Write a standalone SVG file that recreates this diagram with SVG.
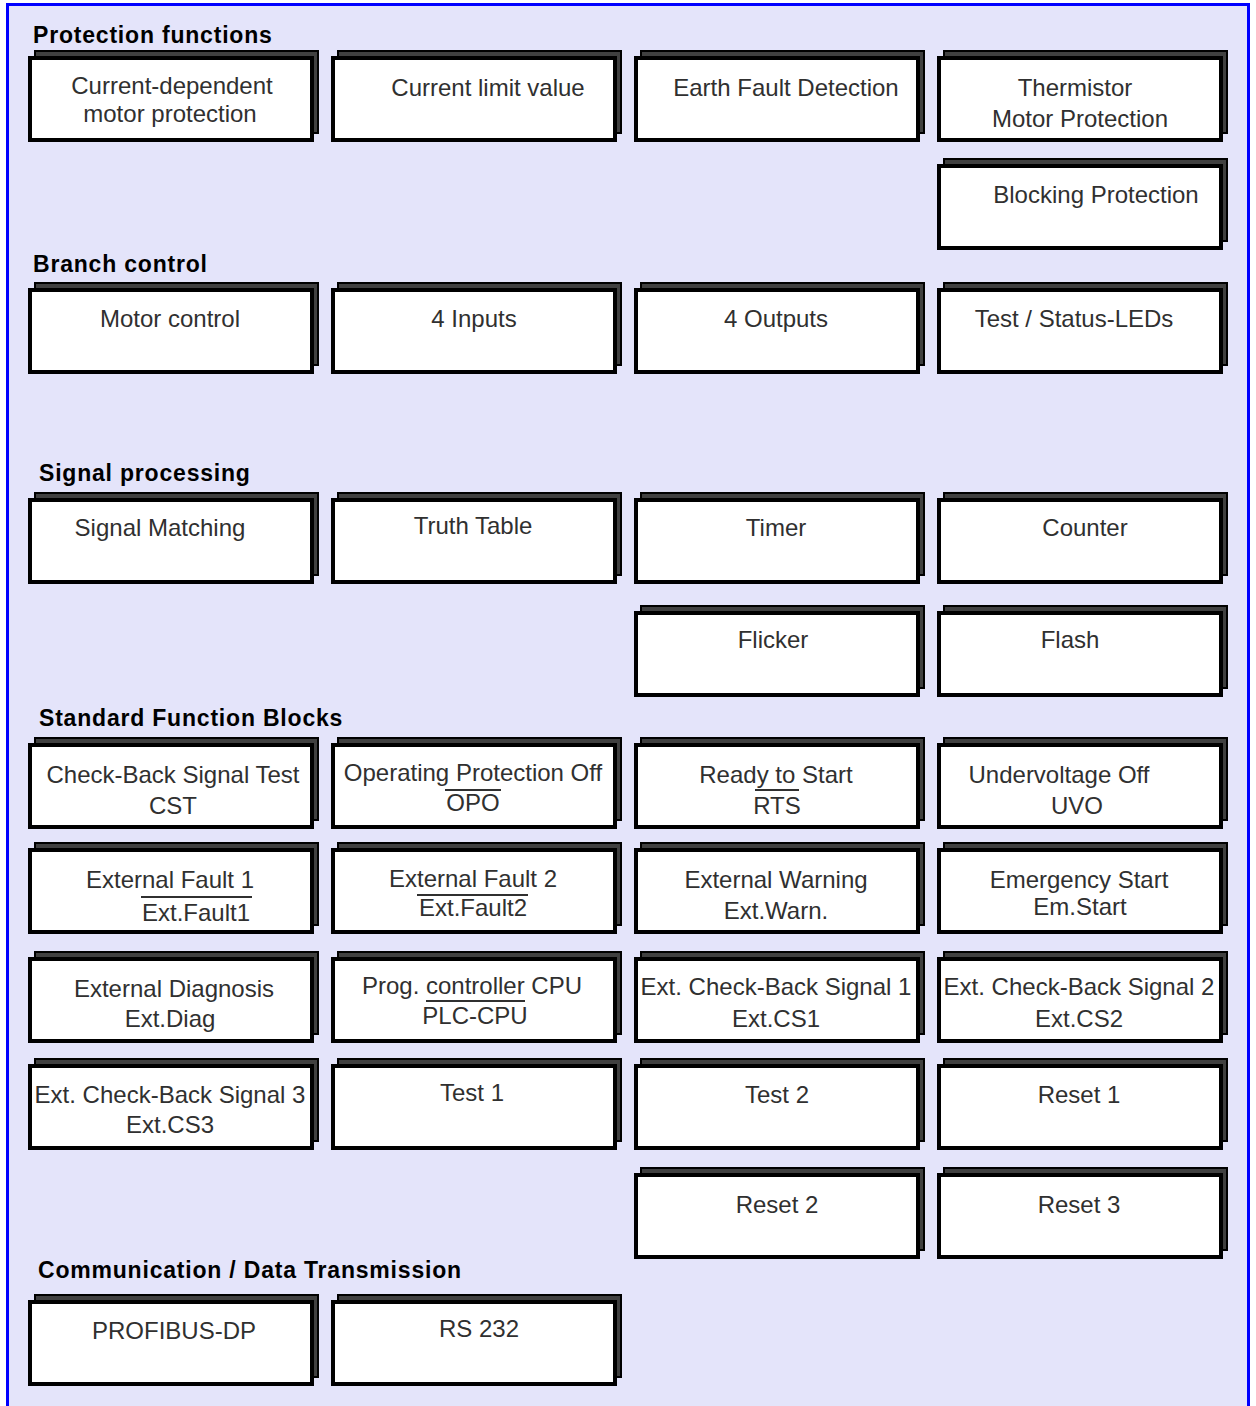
<svg xmlns="http://www.w3.org/2000/svg" width="1256" height="1406" viewBox="0 0 1256 1406">
  <style>
    .frame { fill: #e4e4fa; stroke: #0000ff; stroke-width: 3; }
    .head { font-family: "Liberation Sans", Arial, sans-serif; font-weight: bold; font-size: 23px; fill: #000; letter-spacing: 0.8px; }
    .shadow { fill: #404040; stroke: #000; stroke-width: 2; }
    .box { fill: #fff; stroke: #000; stroke-width: 4; }
    .lbl { font-family: "Liberation Sans", Arial, sans-serif; font-size: 24px; fill: #303030; text-anchor: middle; }
    .over { stroke: #303030; stroke-width: 2; }
  </style>
  <defs>
    <!-- stacked card: dark backing sheet offset up-right, white card on top -->
    <g id="card">
      <rect class="shadow" x="7" y="-5" width="283" height="82"/>
      <rect class="box" x="2" y="2" width="282" height="82"/>
    </g>
  </defs>

  <rect class="frame" x="7.5" y="4.5" width="1241" height="1420"/>

  <!-- section headings -->
  <g id="headings">
    <text class="head" x="33" y="43">Protection functions</text>
    <text class="head" x="33" y="272">Branch control</text>
    <text class="head" x="39" y="481">Signal processing</text>
    <text class="head" x="39" y="726">Standard Function Blocks</text>
    <text class="head" x="38" y="1278">Communication / Data Transmission</text>
  </g>

  <!-- Protection functions -->
  <g id="current-dependent" transform="translate(28,56)">
    <use href="#card"/>
    <text class="lbl" x="144" y="38">Current-dependent</text>
    <text class="lbl" x="142" y="66">motor protection</text>
  </g>
  <g id="current-limit" transform="translate(331,56)">
    <use href="#card"/>
    <text class="lbl" x="157" y="40">Current limit value</text>
  </g>
  <g id="earth-fault" transform="translate(634,56)">
    <use href="#card"/>
    <text class="lbl" x="152" y="40">Earth Fault Detection</text>
  </g>
  <g id="thermistor" transform="translate(937,56)">
    <use href="#card"/>
    <text class="lbl" x="138" y="40">Thermistor</text>
    <text class="lbl" x="143" y="71">Motor Protection</text>
  </g>
  <g id="blocking" transform="translate(937,164)">
    <use href="#card"/>
    <text class="lbl" x="159" y="39">Blocking Protection</text>
  </g>

  <!-- Branch control -->
  <g id="motor-control" transform="translate(28,288)">
    <use href="#card"/>
    <text class="lbl" x="142" y="39">Motor control</text>
  </g>
  <g id="inputs" transform="translate(331,288)">
    <use href="#card"/>
    <text class="lbl" x="143" y="39">4 Inputs</text>
  </g>
  <g id="outputs" transform="translate(634,288)">
    <use href="#card"/>
    <text class="lbl" x="142" y="39">4 Outputs</text>
  </g>
  <g id="test-leds" transform="translate(937,288)">
    <use href="#card"/>
    <text class="lbl" x="137" y="39">Test / Status-LEDs</text>
  </g>

  <!-- Signal processing -->
  <g id="signal-matching" transform="translate(28,498)">
    <use href="#card"/>
    <text class="lbl" x="132" y="38">Signal Matching</text>
  </g>
  <g id="truth-table" transform="translate(331,498)">
    <use href="#card"/>
    <text class="lbl" x="142" y="36">Truth Table</text>
  </g>
  <g id="timer" transform="translate(634,498)">
    <use href="#card"/>
    <text class="lbl" x="142" y="38">Timer</text>
  </g>
  <g id="counter" transform="translate(937,498)">
    <use href="#card"/>
    <text class="lbl" x="148" y="38">Counter</text>
  </g>
  <g id="flicker" transform="translate(634,611)">
    <use href="#card"/>
    <text class="lbl" x="139" y="37">Flicker</text>
  </g>
  <g id="flash" transform="translate(937,611)">
    <use href="#card"/>
    <text class="lbl" x="133" y="37">Flash</text>
  </g>

  <!-- Standard Function Blocks -->
  <g id="cst" transform="translate(28,743)">
    <use href="#card"/>
    <text class="lbl" x="145" y="40">Check-Back Signal Test</text>
    <text class="lbl" x="145" y="71">CST</text>
  </g>
  <g id="opo" transform="translate(331,743)">
    <use href="#card"/>
    <text class="lbl" x="142" y="38">Operating Protection Off</text>
    <line class="over" x1="114" y1="47" x2="170" y2="47"/>
    <text class="lbl" x="142" y="68">OPO</text>
  </g>
  <g id="rts" transform="translate(634,743)">
    <use href="#card"/>
    <text class="lbl" x="142" y="40">Ready to Start</text>
    <line class="over" x1="121" y1="47" x2="165" y2="47"/>
    <text class="lbl" x="143" y="71">RTS</text>
  </g>
  <g id="uvo" transform="translate(937,743)">
    <use href="#card"/>
    <text class="lbl" x="122" y="40">Undervoltage Off</text>
    <text class="lbl" x="140" y="71">UVO</text>
  </g>

  <g id="ext-fault1" transform="translate(28,848)">
    <use href="#card"/>
    <text class="lbl" x="142" y="40">External Fault 1</text>
    <line class="over" x1="113" y1="49" x2="224" y2="49"/>
    <text class="lbl" x="168" y="73">Ext.Fault1</text>
  </g>
  <g id="ext-fault2" transform="translate(331,848)">
    <use href="#card"/>
    <text class="lbl" x="142" y="39">External Fault 2</text>
    <line class="over" x1="86" y1="47" x2="197" y2="47"/>
    <text class="lbl" x="142" y="68">Ext.Fault2</text>
  </g>
  <g id="ext-warn" transform="translate(634,848)">
    <use href="#card"/>
    <text class="lbl" x="142" y="40">External Warning</text>
    <text class="lbl" x="142" y="71">Ext.Warn.</text>
  </g>
  <g id="em-start" transform="translate(937,848)">
    <use href="#card"/>
    <text class="lbl" x="142" y="40">Emergency Start</text>
    <text class="lbl" x="143" y="67">Em.Start</text>
  </g>

  <g id="ext-diag" transform="translate(28,957)">
    <use href="#card"/>
    <text class="lbl" x="146" y="40">External Diagnosis</text>
    <text class="lbl" x="142" y="70">Ext.Diag</text>
  </g>
  <g id="plc-cpu" transform="translate(331,957)">
    <use href="#card"/>
    <text class="lbl" x="141" y="37">Prog. controller CPU</text>
    <line class="over" x1="95" y1="44" x2="194" y2="44"/>
    <text class="lbl" x="144" y="67">PLC-CPU</text>
  </g>
  <g id="ext-cs1" transform="translate(634,957)">
    <use href="#card"/>
    <text class="lbl" x="142" y="38">Ext. Check-Back Signal 1</text>
    <text class="lbl" x="142" y="70">Ext.CS1</text>
  </g>
  <g id="ext-cs2" transform="translate(937,957)">
    <use href="#card"/>
    <text class="lbl" x="142" y="38">Ext. Check-Back Signal 2</text>
    <text class="lbl" x="142" y="70">Ext.CS2</text>
  </g>

  <g id="ext-cs3" transform="translate(28,1064)">
    <use href="#card"/>
    <text class="lbl" x="142" y="39">Ext. Check-Back Signal 3</text>
    <text class="lbl" x="142" y="69">Ext.CS3</text>
  </g>
  <g id="test1" transform="translate(331,1064)">
    <use href="#card"/>
    <text class="lbl" x="141" y="37">Test 1</text>
  </g>
  <g id="test2" transform="translate(634,1064)">
    <use href="#card"/>
    <text class="lbl" x="143" y="39">Test 2</text>
  </g>
  <g id="reset1" transform="translate(937,1064)">
    <use href="#card"/>
    <text class="lbl" x="142" y="39">Reset 1</text>
  </g>
  <g id="reset2" transform="translate(634,1173)">
    <use href="#card"/>
    <text class="lbl" x="143" y="40">Reset 2</text>
  </g>
  <g id="reset3" transform="translate(937,1173)">
    <use href="#card"/>
    <text class="lbl" x="142" y="40">Reset 3</text>
  </g>

  <!-- Communication / Data Transmission -->
  <g id="profibus" transform="translate(28,1300)">
    <use href="#card"/>
    <text class="lbl" x="146" y="39">PROFIBUS-DP</text>
  </g>
  <g id="rs232" transform="translate(331,1300)">
    <use href="#card"/>
    <text class="lbl" x="148" y="37">RS 232</text>
  </g>

  <!-- no connectors between the blocks -->
  <g id="connectors"/>
</svg>
